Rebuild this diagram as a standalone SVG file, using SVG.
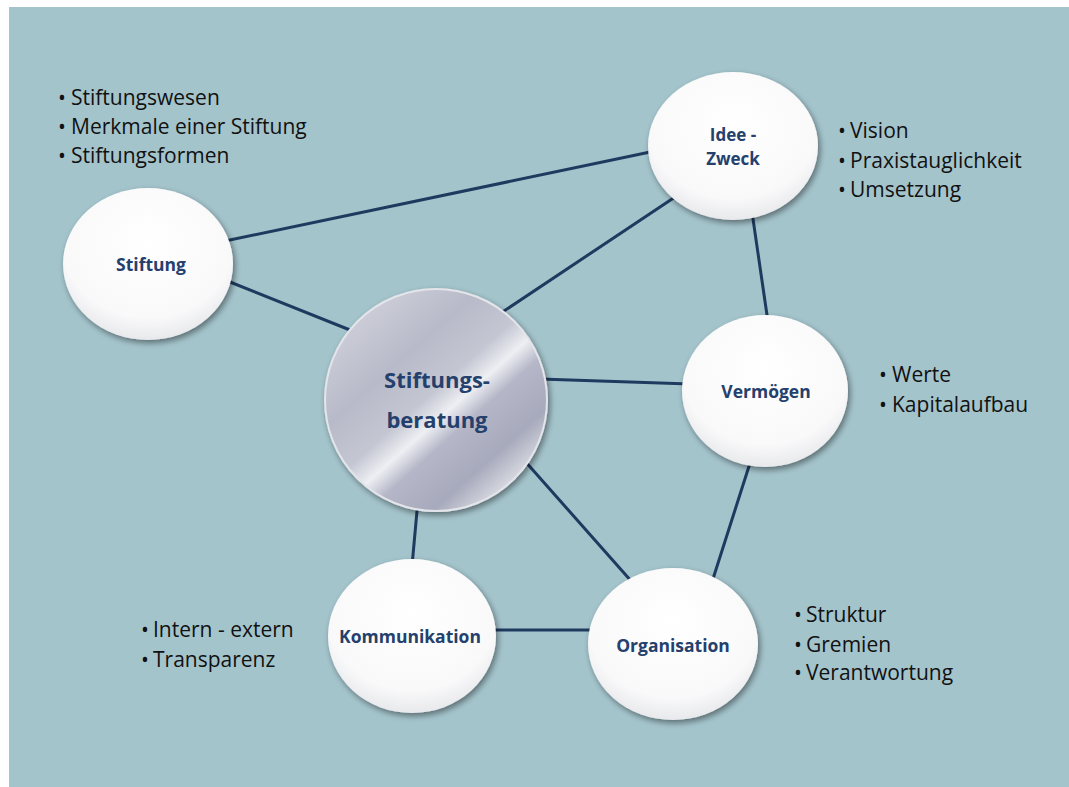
<svg xmlns="http://www.w3.org/2000/svg" width="1069" height="787" viewBox="0 0 1069 787">
<style>
.bul{font-family:"Open Sans","Liberation Sans",sans-serif;font-size:21px;fill:#111;}
.lbl{font-family:"Open Sans","Liberation Sans",sans-serif;font-weight:bold;font-size:17.5px;fill:#24406c;text-anchor:middle;}
.big{font-family:"Open Sans","Liberation Sans",sans-serif;font-weight:bold;font-size:22px;fill:#24406c;text-anchor:middle;}
.node{fill:url(#wg);filter:url(#sh);}
#connectors line{stroke:#1f3a5f;stroke-width:3;stroke-linecap:round;}
</style>
<defs>
<radialGradient id="wg" cx="0.5" cy="0.35" r="0.72">
<stop offset="0" stop-color="#ffffff"/>
<stop offset="0.7" stop-color="#f9f9fa"/>
<stop offset="1" stop-color="#e0e1e5"/>
</radialGradient>
<linearGradient id="mg" x1="0.1" y1="0.05" x2="0.9" y2="0.95">
<stop offset="0" stop-color="#d2d3dc"/>
<stop offset="0.3" stop-color="#b8bac9"/>
<stop offset="0.47" stop-color="#c4c6d2"/>
<stop offset="0.56" stop-color="#eeeff3"/>
<stop offset="0.64" stop-color="#b5b7c8"/>
<stop offset="0.8" stop-color="#a7aabc"/>
<stop offset="0.92" stop-color="#d8d9e1"/>
<stop offset="1" stop-color="#b0b3c3"/>
</linearGradient>
<filter id="sh" x="-20%" y="-20%" width="140%" height="140%">
<feGaussianBlur in="SourceAlpha" stdDeviation="3"/>
<feOffset dx="2" dy="3" result="b"/>
<feComponentTransfer><feFuncA type="linear" slope="0.45"/></feComponentTransfer>
<feMerge><feMergeNode/><feMergeNode in="SourceGraphic"/></feMerge>
</filter>
</defs>
<rect x="0" y="0" width="1069" height="787" fill="#ffffff"/>
<rect x="9" y="7" width="1060" height="780" fill="#a4c4cc"/>
<g id="connectors">
<line x1="225" y1="241" x2="655" y2="151"/>
<line x1="225" y1="280" x2="355" y2="332"/>
<line x1="498" y1="315" x2="678" y2="195"/>
<line x1="752" y1="212" x2="768" y2="322"/>
<line x1="540" y1="379" x2="690" y2="384"/>
<line x1="524" y1="460" x2="632" y2="582"/>
<line x1="751" y1="460" x2="712" y2="582"/>
<line x1="418" y1="500" x2="412" y2="566"/>
<line x1="490" y1="630" x2="595" y2="630"/>
</g>
<g id="stiftung">
<ellipse class="node" cx="148" cy="264" rx="85" ry="76"/>
<text class="lbl" x="151" y="271">Stiftung</text>
</g>
<g id="idee">
<ellipse class="node" cx="733" cy="146" rx="85" ry="74"/>
<text class="lbl" x="733" y="141" style="font-size:17px">Idee -</text>
<text class="lbl" x="733" y="165" style="font-size:17px">Zweck</text>
</g>
<g id="vermoegen">
<ellipse class="node" cx="765" cy="391" rx="83" ry="76"/>
<text class="lbl" x="766" y="398">Vermögen</text>
</g>
<g id="kommunikation">
<ellipse class="node" cx="412" cy="636" rx="84" ry="77"/>
<text class="lbl" x="410" y="643">Kommunikation</text>
</g>
<g id="organisation">
<ellipse class="node" cx="673" cy="644" rx="85" ry="76"/>
<text class="lbl" x="673" y="652">Organisation</text>
</g>
<g id="beratung">
<circle cx="436" cy="400" r="111" fill="url(#mg)" stroke="#e4e5ea" stroke-width="2" filter="url(#sh)"/>
<text class="big" x="437" y="388">Stiftungs-</text>
<text class="big" x="437" y="428">beratung</text>
</g>
<g id="list-stiftung">
<text class="bul" x="58" y="105">•</text><text class="bul" x="71" y="105">Stiftungswesen</text>
<text class="bul" x="58" y="134">•</text><text class="bul" x="71" y="134">Merkmale einer Stiftung</text>
<text class="bul" x="58" y="163">•</text><text class="bul" x="71" y="163">Stiftungsformen</text>
</g>
<g id="list-idee">
<text class="bul" x="838" y="138">•</text><text class="bul" x="850" y="138">Vision</text>
<text class="bul" x="838" y="168">•</text><text class="bul" x="850" y="168">Praxistauglichkeit</text>
<text class="bul" x="838" y="197">•</text><text class="bul" x="850" y="197">Umsetzung</text>
</g>
<g id="list-vermoegen">
<text class="bul" x="879" y="382">•</text><text class="bul" x="892" y="382">Werte</text>
<text class="bul" x="879" y="412">•</text><text class="bul" x="892" y="412">Kapitalaufbau</text>
</g>
<g id="list-organisation">
<text class="bul" x="794" y="622">•</text><text class="bul" x="806" y="622">Struktur</text>
<text class="bul" x="794" y="652">•</text><text class="bul" x="806" y="652">Gremien</text>
<text class="bul" x="794" y="680">•</text><text class="bul" x="806" y="680">Verantwortung</text>
</g>
<g id="list-kommunikation">
<text class="bul" x="141" y="637">•</text><text class="bul" x="153" y="637">Intern - extern</text>
<text class="bul" x="141" y="667">•</text><text class="bul" x="153" y="667">Transparenz</text>
</g>
</svg>
